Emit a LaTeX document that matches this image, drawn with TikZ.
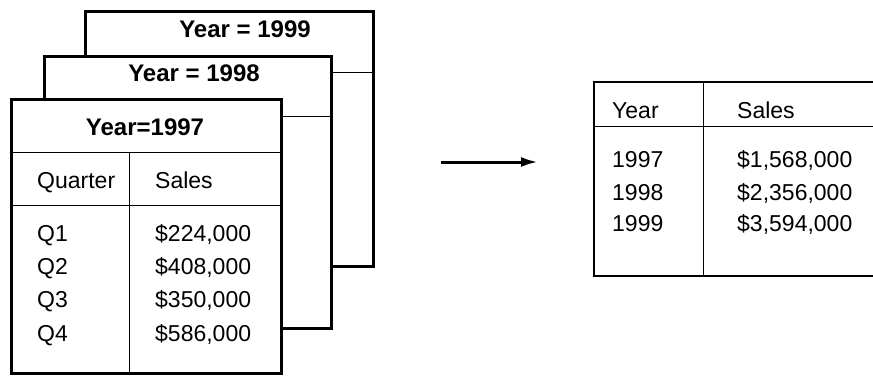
\documentclass[tikz,border=0pt]{standalone}
\usepackage{fontspec}
\setmainfont{Liberation Sans}
\usetikzlibrary{arrows.meta}

\begin{document}
\begin{tikzpicture}[
      x=1pt, y=-1pt,
      folha/.style={draw, fill=white, line width=3pt, inner sep=0pt},
      fio/.style={line width=1pt},
      borda/.style={line width=2.5pt},
      titulo/.style={anchor=base, inner sep=0pt, font=\fontsize{24}{28}\selectfont\bfseries},
      cel/.style={anchor=base west, inner sep=0pt, font=\fontsize{23}{27}\selectfont}
    ]
    \useasboundingbox (0,0) rectangle (873,375);

    % Tabelas por ano (empilhadas)
    \node[folha, minimum width=287.3pt, minimum height=255pt] (t1999) at (229.4,139.2) {};
    \draw[fio] (t1999.west |- 0,72.3) -- (t1999.east |- 0,72.3);
    \node[titulo] (h1999) at (245,37.5) {Year = 1999};

    \node[folha, minimum width=287.4pt, minimum height=272pt] (t1998) at (188,192) {};
    \draw[fio] (t1998.west |- 0,116.7) -- (t1998.east |- 0,116.7);
    \node[titulo] (h1998) at (194,81.5) {Year = 1998};

    \node[folha, minimum width=270.7pt, minimum height=274pt] (t1997) at (146.4,236.3) {};
    \draw[fio] (t1997.west |- 0,152.3) -- (t1997.east |- 0,152.3);
    \draw[fio] (t1997.west |- 0,205.7) -- (t1997.east |- 0,205.7);
    \draw[fio] (129.3,152.3) -- (t1997.south -| 129.3,0);
    \node[titulo] (h1997) at (145,135.5) {Year=1997};

    \node[cel] (quarter) at (37,188) {Quarter};
    \node[cel] (sales)   at (155,188) {Sales};
    \node[cel] (q1) at (37,241)   {Q1};
    \node[cel] (q2) at (37,274)   {Q2};
    \node[cel] (q3) at (37,307.5) {Q3};
    \node[cel] (q4) at (37,341)   {Q4};
    \node[cel] (v1) at (155,241)   {\$224,000};
    \node[cel] (v2) at (155,274)   {\$408,000};
    \node[cel] (v3) at (155,307.5) {\$350,000};
    \node[cel] (v4) at (155,341)   {\$586,000};

    % Seta
    \coordinate (seta-ini) at (441,162);
    \coordinate (seta-fim) at (538,162);
    \draw[-{Latex[length=17pt, width=10pt]}, line width=3pt] (seta-ini) -- (seta-fim);

    % Tabela resumo
    \coordinate (r-no) at (594,82);
    \coordinate (r-so) at (594,276);
    \draw[borda] (873,82) -- (r-no) -- (r-so) -- (873,276);
    \draw[fio] (594,126) -- (873,126);
    \draw[fio] (703.3,82) -- (703.3,276);

    \node[cel] (year)   at (612,118) {Year};
    \node[cel] (sales2) at (737,118) {Sales};
    \node[cel] (y1997) at (612,167) {1997};
    \node[cel] (y1998) at (612,200) {1998};
    \node[cel] (y1999) at (612,231) {1999};
    \node[cel] (s1997) at (737,167) {\$1,568,000};
    \node[cel] (s1998) at (737,200) {\$2,356,000};
    \node[cel] (s1999) at (737,231) {\$3,594,000};

  \end{tikzpicture}
\end{document}
